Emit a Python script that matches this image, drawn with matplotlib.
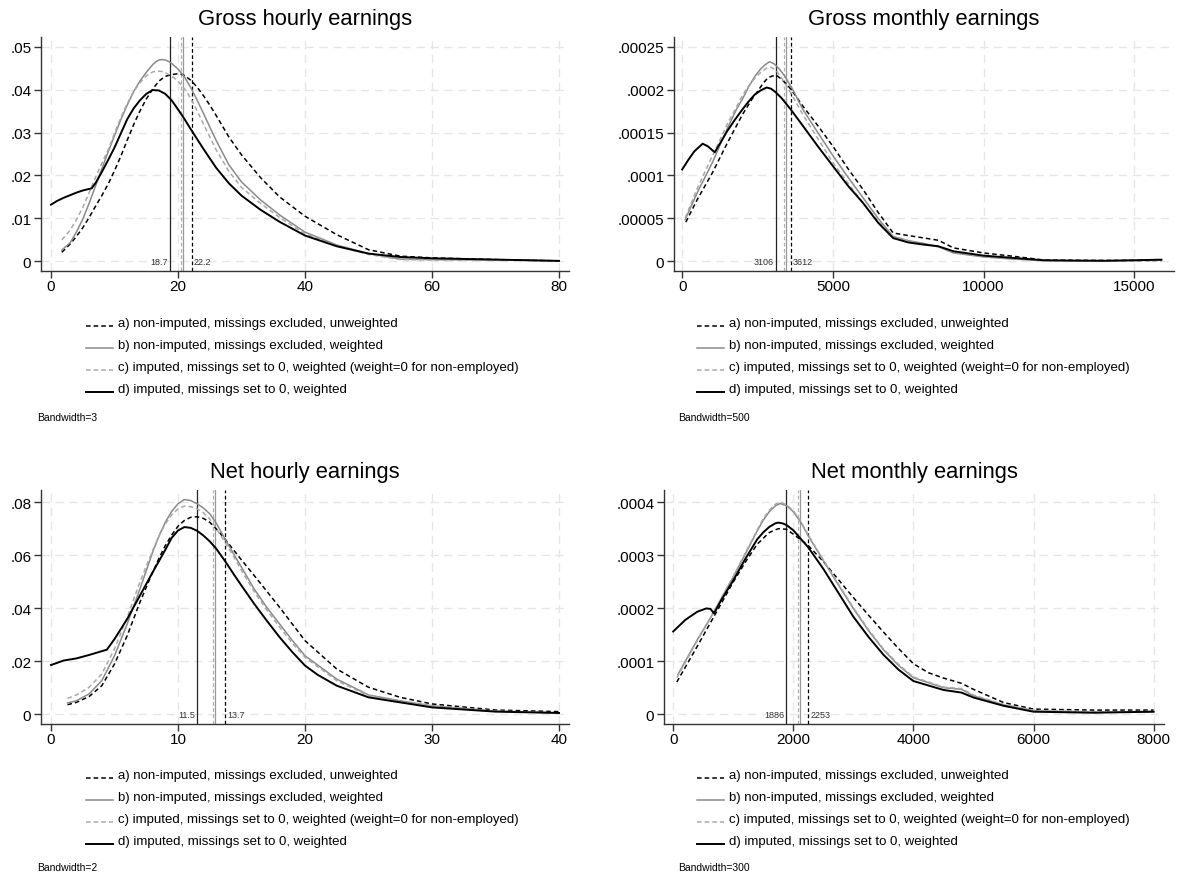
import matplotlib
matplotlib.use("Agg")
import matplotlib.pyplot as plt
from matplotlib.lines import Line2D

plt.rcParams['font.family'] = ['Liberation Sans', 'DejaVu Sans']

W, H = 1189, 879

# ---------------- data ----------------
titles = ["Gross hourly earnings", "Gross monthly earnings",
          "Net hourly earnings", "Net monthly earnings"]
bandwidth_notes = ["Bandwidth=3", "Bandwidth=500", "Bandwidth=2", "Bandwidth=300"]
legend_labels = [
    "a) non-imputed, missings excluded, unweighted",
    "b) non-imputed, missings excluded, weighted",
    "c) imputed, missings set to 0, weighted (weight=0 for non-employed)",
    "d) imputed, missings set to 0, weighted",
]

# Gross hourly
gh_a_x = [1.7, 3, 4, 5, 6, 7, 8, 9, 10, 11, 12, 13, 14, 15, 16, 17, 18, 19, 20, 20.5, 21, 22, 23, 24, 25, 26,
          27, 28, 30, 33, 36, 40, 45, 50, 55, 60, 70, 80]
gh_a_y = [.0021, .0040, .0058, .0078, .0102, .0128, .0153, .0180, .0211, .0245, .0282, .0318, .0350, .0378,
          .0401, .0420, .0431, .0435, .0437, .0436, .0433, .0422, .0406, .0386, .0364, .0340, .0315, .0290,
          .0248, .0195, .0150, .0105, .0062, .0027, .0012, .0008, .0004, .0001]
gh_b_x = [1.7, 3, 4, 5, 6, 7, 8, 9, 10, 11, 12, 13, 14, 15, 16, 16.5, 17, 17.5, 18, 18.5, 19, 20, 21, 22, 23,
          24, 25, 26, 28, 30, 33, 36, 40, 45, 50, 55, 60, 70, 80]
gh_b_y = [.0026, .0043, .0068, .0098, .0135, .0175, .0215, .0255, .0293, .0330, .0364, .0395, .0420, .0440,
          .0458, .0465, .0469, .0470, .0469, .0466, .0461, .0448, .0430, .0405, .0376, .0345, .0313, .0282,
          .0225, .0185, .0143, .0108, .0068, .0038, .0018, .0005, .0004, .0003, .0001]
gh_c_x = [1.7, 3, 4, 5, 6, 7, 8, 9, 10, 11, 12, 13, 14, 15, 16, 16.5, 17, 17.5, 18.5, 19.5, 20.5, 21.5, 22.5,
          24, 25, 26, 28, 30, 33, 36, 40, 45, 50, 55, 60, 72]
gh_c_y = [.0050, .0072, .0097, .0125, .0160, .0195, .0228, .0260, .0298, .0335, .0367, .0395, .0416, .0432,
          .0441, .0443, .0443, .0442, .0436, .0426, .0412, .0392, .0366, .0320, .0290, .0260, .0210, .0172,
          .0135, .0102, .0064, .0036, .0016, .0004, .0003, .0002]
gh_d_x = [0, 1, 2, 3, 4, 5, 6.4, 7, 8, 9, 10, 11, 12, 13, 14, 15, 16, 17, 18, 19, 20, 21, 22, 23, 24, 25, 26,
          28, 30, 33, 36, 40, 45, 50, 55, 60, 70, 80]
gh_d_y = [.0132, .0141, .0148, .0154, .0160, .0165, .0170, .0182, .0208, .0236, .0265, .0298, .0331, .0356,
          .0375, .0390, .0399, .0398, .0390, .0375, .0354, .0332, .0308, .0285, .0262, .0240, .0218, .0182,
          .0153, .0120, .0092, .0060, .0035, .0018, .0010, .0007, .0004, .0001]

# Gross monthly
gm_a_x = [120, 500, 1000, 1500, 2000, 2300, 2500, 2700, 2850, 3000, 3150, 3300, 3500, 3700, 4000, 4500,
          5000, 5500, 6000, 6500, 7000, 7500, 8000, 8500, 9000, 10000, 11000, 12000, 14000, 15900]
gm_a_y = [.0000456, .000072, .000103, .000138, .000171, .000188, .000198, .000208, .000214, .000216,
          .000216, .000212, .000205, .000196, .000181, .000158, .000134, .000108, .0000837, .000057,
          .000033, .000030, .0000273, .0000245, .0000156, .0000097, .0000058, .0000015, .0000010, .0000010]
gm_b_x = [100, 500, 1000, 1500, 1800, 2000, 2200, 2400, 2600, 2750, 2900, 3050, 3200, 3400, 3700, 4000,
          4500, 5000, 5500, 6000, 6500, 7000, 7500, 8000, 8500, 9000, 10000, 11000, 12000, 14000, 15900]
gm_b_y = [.0000487, .000080, .000115, .000155, .000177, .000189, .000203, .000215, .000224, .000229,
          .0002325, .000230, .000225, .000216, .000198, .000177, .000150, .000123, .000098, .000074,
          .000050, .000029, .000024, .000021, .000017, .0000097, .0000051, .0000025, .0000008, .0000006,
          .0000015]
gm_c_x = [100, 500, 1000, 1500, 2000, 2200, 2400, 2600, 2800, 2950, 3100, 3250, 3400, 3700, 4000, 4500,
          5000, 5500, 6000, 6500, 7000, 7500, 8000, 8500, 9000, 10000, 11000, 12000, 14000, 15900]
gm_c_y = [.0000506, .000085, .0001227, .000160, .000193, .000204, .000213, .000220, .000225, .000226,
          .000223, .000216, .000208, .000190, .000171, .000143, .000115, .000091, .000068, .000047,
          .0000284, .000024, .000020, .000017, .0000105, .0000058, .0000030, .0000010, .0000007, .0000008]
gm_d_x = [0, 200, 400, 680, 850, 1080, 1300, 1500, 1750, 2000, 2200, 2400, 2600, 2800, 2950, 3100, 3300,
          3600, 4000, 4500, 5000, 5500, 6000, 6500, 7000, 7500, 8000, 8500, 9000, 10000, 11000, 12000,
          13000, 14000, 15000, 15900]
gm_d_y = [.000107, .000118, .000128, .000137, .000134, .000127, .000140, .000152, .000165, .000177,
          .000186, .000194, .000199, .0002025, .000201, .000197, .000190, .000177, .000158, .000134,
          .000111, .000088, .000068, .000045, .000027, .000022, .0000195, .0000175, .0000117, .0000066,
          .0000039, .0000012, .0000008, .0000006, .0000012, .0000019]

# Net hourly
nh_a_x = [1.3, 2, 3, 4, 5, 6, 7, 8, 8.5, 9, 9.5, 10, 10.5, 11, 11.5, 12, 12.5, 13, 13.7, 14.5, 15, 16, 17, 18,
          19, 20, 22.5, 25, 27.5, 30, 35, 40]
nh_a_y = [.0035, .0044, .0066, .0107, .0189, .0296, .0422, .0535, .0588, .0636, .0676, .0709, .0731, .0743,
          .0745, .0739, .0724, .0700, .0661, .0612, .0582, .0523, .0463, .0403, .0340, .0277, .0170, .0101,
          .0063, .0038, .0015, .0009]
nh_b_x = [1.3, 2, 3, 4, 5, 6, 7, 8, 8.5, 9, 9.5, 10, 10.5, 11, 11.5, 12, 12.5, 13, 13.7, 14.5, 15, 16, 17, 18,
          19, 20, 22.5, 25, 27.5, 30, 35, 40]
nh_b_y = [.0042, .0050, .0076, .0126, .0220, .0340, .0472, .0611, .0672, .0724, .0765, .0794, .0810, .0806,
          .0794, .0778, .0756, .0722, .0661, .0595, .0554, .0472, .0402, .0340, .0278, .0220, .0132, .0072,
          .0050, .0031, .0011, .0004]
nh_c_x = [1.3, 2, 3, 4, 5, 6, 7, 8, 8.5, 9, 9.5, 10, 10.5, 11, 11.5, 12, 12.5, 13, 13.7, 14.5, 15, 16, 17, 18,
          19, 20, 22.5, 25, 27.5, 30, 35, 40]
nh_c_y = [.0059, .0072, .0101, .0151, .0246, .0365, .0498, .0617, .0672, .0718, .0752, .0775, .0785, .0783,
          .0775, .0760, .0737, .0702, .0649, .0585, .0542, .0462, .0392, .0328, .0268, .0214, .0126, .0069,
          .0048, .0030, .0011, .0004]
nh_d_x = [0, 1, 2, 3, 4.4, 5, 6, 7, 8, 9, 9.5, 10, 10.5, 11, 11.5, 12, 12.5, 13, 13.7, 14.5, 15, 16, 17, 18,
          19, 20, 21, 22.5, 25, 27.5, 30, 35, 40]
nh_d_y = [.0185, .0202, .0210, .0223, .0243, .0283, .0359, .0447, .0535, .0620, .0665, .0693, .0706, .0703,
          .0692, .0674, .0652, .0625, .0578, .0520, .0485, .0416, .0352, .0290, .0234, .0183, .0148, .0107,
          .0063, .0044, .0025, .0009, .0004]

# Net monthly
nm_a_x = [60, 400, 600, 800, 1000, 1200, 1400, 1600, 1750, 1886, 2000, 2250, 2500, 2750, 3000, 3250, 3500,
          3750, 4000, 4250, 4500, 4800, 5000, 5500, 6000, 7000, 8000]
nm_a_y = [.0000604, .0001277, .0001682, .0002087, .0002492, .0002866, .0003209, .0003427, .000350,
          .0003489, .0003396, .000318, .000288, .000254, .000220, .000187, .000155, .000124, .000095,
          .000078, .000068, .000058, .0000467, .0000218, .0000093, .0000075, .0000075]
nm_b_x = [80, 400, 600, 800, 1000, 1200, 1400, 1500, 1600, 1700, 1780, 1886, 2000, 2125, 2250, 2500, 2750,
          3000, 3250, 3500, 3750, 4000, 4500, 4800, 5000, 5500, 6000, 7000, 8000]
nm_b_y = [.0000748, .000140, .0001776, .000218, .0002586, .000302, .000346, .000366, .000382, .000393,
          .0003975, .0003935, .000382, .000362, .0003364, .0002897, .000244, .0001994, .000158, .0001215,
          .000092, .0000685, .0000498, .0000467, .0000343, .0000174, .0000062, .0000031, .0000044]
nm_c_x = [60, 400, 600, 800, 1000, 1200, 1400, 1500, 1600, 1700, 1780, 1886, 2000, 2125, 2250, 2500, 2750,
          3000, 3250, 3500, 3750, 4000, 4500, 4800, 5000, 5500, 6000, 7000, 8000]
nm_c_y = [.0000685, .000138, .000177, .000219, .000260, .000304, .000348, .000369, .000385, .000396,
          .000400, .0003955, .000384, .000364, .000338, .000291, .000246, .000201, .000160, .000123,
          .000094, .000070, .000051, .000048, .000036, .000018, .000007, .000004, .000005]
nm_d_x = [0, 200, 400, 550, 620, 680, 800, 1000, 1200, 1400, 1500, 1600, 1700, 1750, 1820, 1886, 2000, 2250,
          2500, 2750, 3000, 3250, 3500, 3750, 4000, 4500, 4800, 5000, 5500, 6000, 7000, 8000]
nm_d_y = [.0001558, .0001776, .0001931, .0001994, .0001985, .000190, .000215, .0002523, .0002928, .000330,
          .000343, .0003533, .000360, .0003614, .000360, .000357, .000347, .0003146, .0002741, .000229,
          .0001838, .000146, .0001121, .000084, .0000623, .0000455, .0000405, .0000312, .0000156, .0000044,
          .0000025, .0000044]

# medians (a, b, c, d)
gh_medians = [22.2, 20.8, 20.5, 18.7]
gm_medians = [3612, 3430, 3380, 3106]
nh_medians = [13.7, 12.95, 12.75, 11.5]
nm_medians = [2253, 2110, 2085, 1886]
gh_median_labels = ["22.2", "18.7"]
gm_median_labels = ["3612", "3106"]
nh_median_labels = ["13.7", "11.5"]
nm_median_labels = ["2253", "1886"]

gh_xticks = [0, 20, 40, 60, 80]
gm_xticks = [0, 5000, 10000, 15000]
nh_xticks = [0, 10, 20, 30, 40]
nm_xticks = [0, 2000, 4000, 6000, 8000]
gh_yticks = [0, .01, .02, .03, .04, .05]
gh_yticklabels = ["0", ".01", ".02", ".03", ".04", ".05"]
gm_yticks = [0, .00005, .0001, .00015, .0002, .00025]
gm_yticklabels = ["0", ".00005", ".0001", ".00015", ".0002", ".00025"]
nh_yticks = [0, .02, .04, .06, .08]
nh_yticklabels = ["0", ".02", ".04", ".06", ".08"]
nm_yticks = [0, .0001, .0002, .0003, .0004]
nm_yticklabels = ["0", ".0001", ".0002", ".0003", ".0004"]

# ---------------- styles ----------------
styles = [
    dict(color="black", lw=1.1, ls=(0, (3, 2))),
    dict(color="#8a8a8a", lw=1.1, ls="-"),
    dict(color="#a8a8a8", lw=1.1, ls=(0, (3, 2))),
    dict(color="black", lw=1.4, ls="-"),
]
vstyles = [
    dict(color="black", lw=0.9, ls=(0, (3, 2))),
    dict(color="#999999", lw=0.9, ls="-"),
    dict(color="#b0b0b0", lw=0.9, ls=(0, (3, 2))),
    dict(color="#222222", lw=0.9, ls="-"),
]

fig = plt.figure(figsize=(W / 100, H / 100), dpi=100)


def px_axes(l, t, r, b):
    return fig.add_axes([l / W, 1 - b / H, (r - l) / W, (b - t) / H])


panels = [
    dict(rect=(41, 38, 569, 272), xlim=(-1.575, 81.575), ylim=(-0.00226, 0.05226),
         curves=[(gh_a_x, gh_a_y), (gh_b_x, gh_b_y), (gh_c_x, gh_c_y), (gh_d_x, gh_d_y)],
         med=gh_medians, medlab=gh_median_labels, xt=gh_xticks, yt=gh_yticks, ytl=gh_yticklabels,
         title=titles[0], note=bandwidth_notes[0], leg_x=86, leg_y=324, note_x=37, note_y=418),
    dict(rect=(674, 38, 1174, 272), xlim=(-272, 16318), ylim=(-0.0000113, 0.0002613),
         curves=[(gm_a_x, gm_a_y), (gm_b_x, gm_b_y), (gm_c_x, gm_c_y), (gm_d_x, gm_d_y)],
         med=gm_medians, medlab=gm_median_labels, xt=gm_xticks, yt=gm_yticks, ytl=gm_yticklabels,
         title=titles[1], note=bandwidth_notes[1], leg_x=697, leg_y=324, note_x=678, note_y=418),
    dict(rect=(41, 491, 569, 725), xlim=(-0.7875, 40.7875), ylim=(-0.00377, 0.0846),
         curves=[(nh_a_x, nh_a_y), (nh_b_x, nh_b_y), (nh_c_x, nh_c_y), (nh_d_x, nh_d_y)],
         med=nh_medians, medlab=nh_median_labels, xt=nh_xticks, yt=nh_yticks, ytl=nh_yticklabels,
         title=titles[2], note=bandwidth_notes[2], leg_x=86, leg_y=776, note_x=37, note_y=868),
    dict(rect=(664, 491, 1164, 725), xlim=(-153, 8173), ylim=(-0.0000188, 0.000423),
         curves=[(nm_a_x, nm_a_y), (nm_b_x, nm_b_y), (nm_c_x, nm_c_y), (nm_d_x, nm_d_y)],
         med=nm_medians, medlab=nm_median_labels, xt=nm_xticks, yt=nm_yticks, ytl=nm_yticklabels,
         title=titles[3], note=bandwidth_notes[3], leg_x=697, leg_y=776, note_x=678, note_y=868),
]

for p in panels:
    l, t, r, b = p["rect"]
    ax = px_axes(l, t, r, b)
    ax.set_xlim(*p["xlim"])
    ax.set_ylim(*p["ylim"])
    ax.set_xticks(p["xt"])
    ax.set_xticklabels([str(v) for v in p["xt"]])
    ax.set_yticks(p["yt"])
    ax.set_yticklabels(p["ytl"])
    ax.grid(True, color="#e6e6e6", linestyle=(0, (6, 4)), linewidth=1.0)
    ax.set_axisbelow(True)
    for s in ["top", "right"]:
        ax.spines[s].set_visible(False)
    for s in ["left", "bottom"]:
        ax.spines[s].set_color("#333333")
        ax.spines[s].set_linewidth(1.0)
    ax.tick_params(direction="out", length=5, width=1, colors="#333333", labelsize=11,
                   labelcolor="black", pad=2)
    ax.tick_params(axis="x", pad=1)
    for m, st in zip(p["med"], vstyles):
        ax.axvline(m, color=st["color"], lw=st["lw"], linestyle=st["ls"], zorder=2)
    for (xs, ys), st in zip(p["curves"], styles):
        ax.plot(xs, ys, color=st["color"], lw=st["lw"], linestyle=st["ls"], zorder=3,
                solid_joinstyle="round")
    ax.annotate(p["medlab"][0], xy=(p["med"][0], 0), xytext=(1.5, 0), textcoords="offset points",
                ha="left", va="center", fontsize=6.5, color="#333333", zorder=4)
    ax.annotate(p["medlab"][1], xy=(p["med"][3], 0), xytext=(-1.5, 0), textcoords="offset points",
                ha="right", va="center", fontsize=6.5, color="#333333", zorder=4)
    fig.text(((l + r) / 2) / W, 1 - (t - 18) / H, p["title"], ha="center", va="center", fontsize=15.8)
    for i, (lab, st) in enumerate(zip(legend_labels, styles)):
        yy = p["leg_y"] + 22 * i
        fig.add_artist(Line2D([p["leg_x"] / W, (p["leg_x"] + 27) / W], [1 - (yy + 3) / H, 1 - (yy + 3) / H],
                              transform=fig.transFigure, color=st["color"], lw=st["lw"], linestyle=st["ls"]))
        fig.text((p["leg_x"] + 32) / W, 1 - yy / H, lab, ha="left", va="center", fontsize=9.5)
    fig.text(p["note_x"] / W, 1 - p["note_y"] / H, p["note"], ha="left", va="center", fontsize=7.5)

fig.savefig("out.png", dpi=100, facecolor="white")
